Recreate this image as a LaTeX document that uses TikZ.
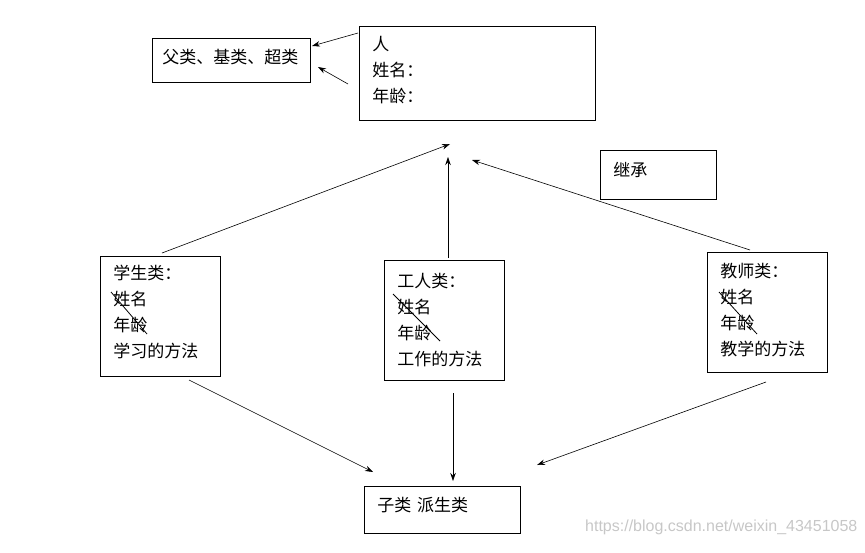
\documentclass[tikz,border=0pt]{standalone}
\usepackage{fontspec}
\usepackage{tikz}
\usetikzlibrary{arrows.meta}
\setmainfont{Liberation Sans}
\newfontfamily\cjk{Noto Sans CJK SC}
\tikzset{
  classbox/.style={draw, thick, anchor=north west, align=left, inner ysep=0pt, inner xsep=13pt,
    font=\cjk\fontsize{17}{26}\selectfont},
  inherit/.style={-{Stealth[length=8pt,width=5.5pt]}, semithick}
}

\begin{document}
\begin{tikzpicture}[x=1pt,y=-1pt]
\useasboundingbox (0,0) rectangle (865,552);

% parent classes
\node[classbox, inner xsep=10pt, minimum width=158pt, text width=138pt, text height=25.5pt, text depth=18.5pt] (parent) at (152,38) {父类、基类、超类};
\node[classbox, minimum width=236pt, text width=210pt, text height=24.5pt, text depth=69.5pt] (person) at (359,26) {人\\姓名：\\年龄：};
\node[classbox, minimum width=116pt, text width=90pt, text height=26.5pt, text depth=22.5pt] (extend) at (600,150) {继承};

% sub classes
\node[classbox, minimum width=120pt, text width=94pt, text height=23.5pt, text depth=96.5pt] (student) at (100,256) {学生类：\\姓名\\年龄\\学习的方法};
\node[classbox, minimum width=120pt, text width=94pt, text height=27pt, text depth=93pt] (worker) at (384,260) {工人类：\\姓名\\年龄\\工作的方法};
\node[classbox, minimum width=120pt, text width=94pt, text height=25pt, text depth=95pt] (teacher) at (707,252) {教师类：\\姓名\\年龄\\教学的方法};
\node[classbox, minimum width=156pt, text width=130pt, text height=25.5pt, text depth=21.5pt] (child) at (364,486) {子类\ 派生类};

% crossed out fields
\draw[thick] (111,292) -- (147,334);
\draw[thick] (393,294) -- (440,341);
\draw[thick] (719,292) -- (757,334);

% arrow ends
\coordinate (p1) at (358,33);
\coordinate (p2) at (348,84);
\coordinate (s1) at (162,253);
\coordinate (w1) at (448,258);
\coordinate (t1) at (750,250);
\coordinate (u1) at (450,144);
\coordinate (u2) at (448,157);
\coordinate (u3) at (472,160);
\coordinate (s2) at (189,380);
\coordinate (w2) at (453,393);
\coordinate (t2) at (766,382);
\coordinate (d1) at (373,472);
\coordinate (d2) at (453,481);
\coordinate (d3) at (537,465);

\draw[inherit] (p1) -- (312,46);
\draw[inherit] (p2) -- (318,67);
\draw[inherit] (s1) -- (u1);
\draw[inherit] (w1) -- (u2);
\draw[inherit] (t1) -- (u3);
\draw[inherit] (s2) -- (d1);
\draw[inherit] (w2) -- (d2);
\draw[inherit] (t2) -- (d3);

% watermark
\node[anchor=west, text=black!22, font=\fontsize{16}{16}\selectfont, inner sep=0pt] (mark) at (585,527) {https://blog.csdn.net/weixin\_43451058};
\end{tikzpicture}
\end{document}
